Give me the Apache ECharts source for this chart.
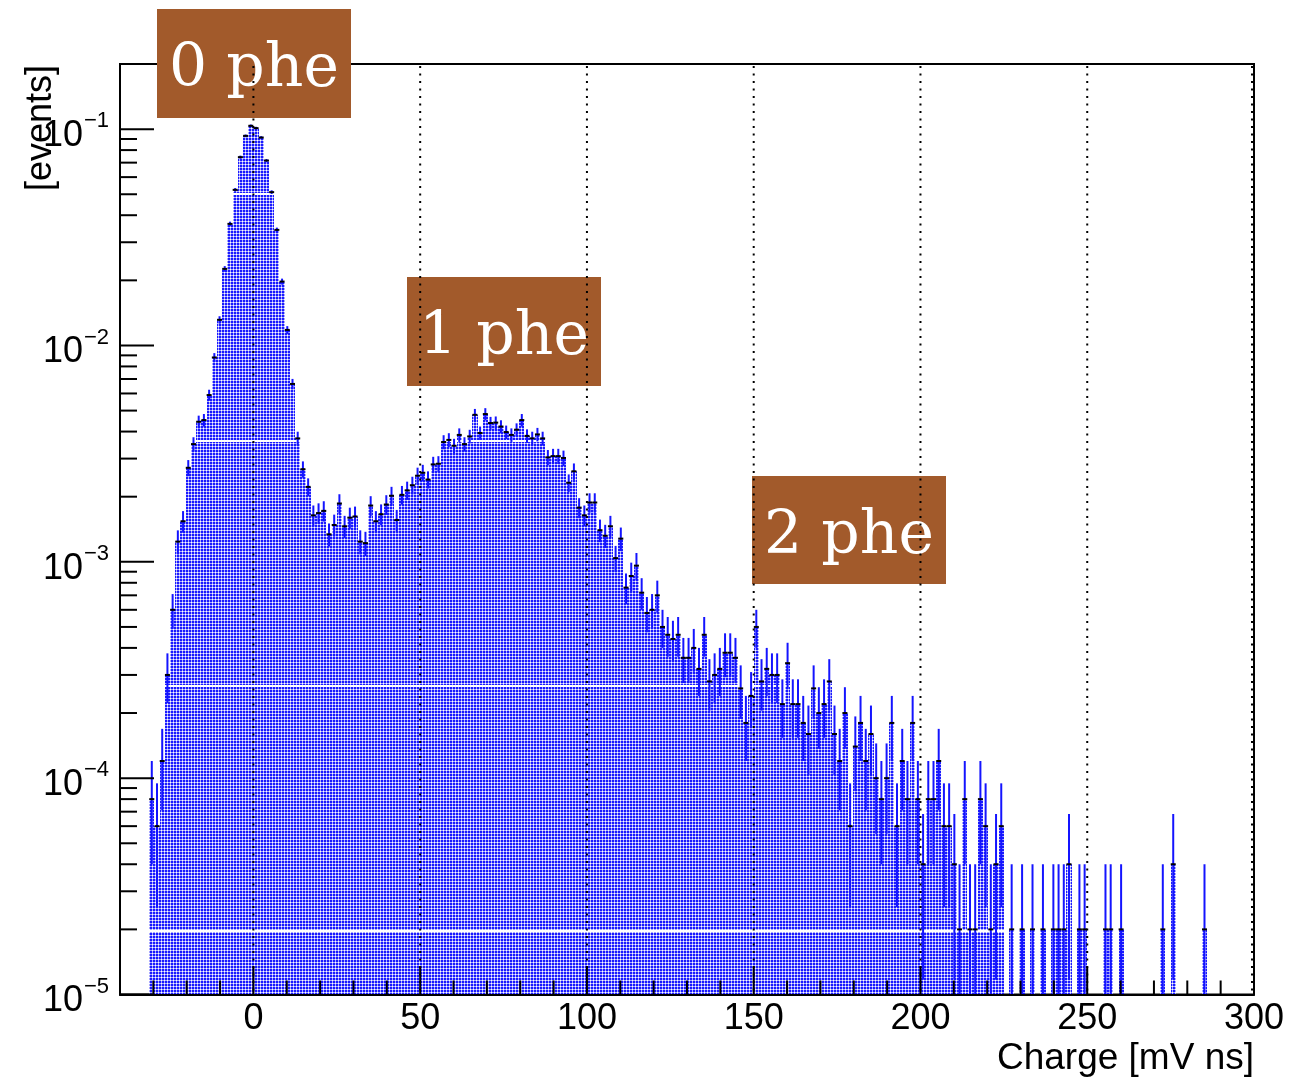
<!DOCTYPE html>
<html><head><meta charset="utf-8">
<script src="https://cdn.jsdelivr.net/npm/echarts@6/dist/echarts.min.js"></script>
<style>html,body{margin:0;padding:0;background:#fff}#c{width:1312px;height:1078px}</style>
</head><body><div id="c"></div>
<script>
// ---------------- data ----------------
const binStart = -31.25;      // lower edge of first bin [mV ns]
const binWidth = 1.5625;      // bin width [mV ns]
const eventsPerCount = 2e-5;  // normalisation: one entry = 2e-5
const counts = [
  4, 3, 6, 15, 30, 62, 77, 136, 175, 222,
  226, 295, 440, 657, 1130, 1824, 2620, 3711, 4655, 5180,
  5054, 4573, 3579, 2557, 1711, 987, 590, 332, 186, 134,
  111, 82, 84, 86, 67, 74, 93, 73, 80, 81,
  62, 61, 91, 77, 83, 92, 101, 78, 102, 107,
  113, 125, 129, 120, 141, 142, 179, 183, 172, 193,
  175, 190, 239, 197, 241, 219, 220, 211, 199, 193,
  204, 226, 191, 186, 194, 186, 152, 154, 154, 151,
  116, 131, 89, 82, 94, 94, 70, 66, 73, 52,
  64, 38, 43, 48, 36, 29, 30, 35, 25, 23,
  22, 23, 18, 18, 20, 16, 23, 14, 15, 16,
  19, 19, 18, 13, 9, 12, 25, 14, 16, 15,
  15, 11, 17, 11, 11, 9, 8, 13, 10, 11,
  14, 8, 6, 10, 3, 7, 9, 6, 8, 5,
  4, 5, 9, 3, 6, 4, 9, 4, 2, 4,
  4, 6, 3, 3, 2, 1, 4, 1, 1, 4,
  3, 1, 2, 3, 0, 1, 0, 1, 0, 1,
  0, 1, 0, 1, 1, 1, 2, 0, 1, 1,
  0, 0, 0, 1, 1, 0, 1, 0, 0, 0,
  0, 0, 0, 0, 1, 0, 2, 0, 0, 0,
  0, 0, 1
];
const xTickMajor = [0, 50, 100, 150, 200, 250, 300];
const xTickLabels = ['0', '50', '100', '150', '200', '250', '300'];
const xTickMinor = [-30, -20, -10, 10, 20, 30, 40, 60, 70, 80, 90, 110, 120, 130, 140,
  160, 170, 180, 190, 210, 220, 230, 240, 260, 270, 280, 290];
const yTickMajor = [1e-5, 1e-4, 1e-3, 1e-2, 1e-1];
const yTickExponents = ['−5', '−4', '−3', '−2', '−1'];
const yTickMinor = [2e-5, 3e-5, 4e-5, 5e-5, 6e-5, 7e-5, 8e-5, 9e-5,
  2e-4, 3e-4, 4e-4, 5e-4, 6e-4, 7e-4, 8e-4, 9e-4,
  2e-3, 3e-3, 4e-3, 5e-3, 6e-3, 7e-3, 8e-3, 9e-3,
  2e-2, 3e-2, 4e-2, 5e-2, 6e-2, 7e-2, 8e-2, 9e-2];
const annotations = ['0 phe', '1 phe', '2 phe'];
const xTitle = 'Charge [mV ns]';
const yTitle = '[events]';

// ---------------- build ----------------
const histData = [];
counts.forEach((n, i) => {
  if (n > 0) {
    const lo = binStart + i * binWidth;
    histData.push([lo, lo + binWidth, n * eventsPerCount, Math.sqrt(n) * eventsPerCount]);
  }
});

// hatch-like fill pattern (ROOT fill style look)
const pc = document.createElement('canvas');
pc.width = 3; pc.height = 3;
const pctx = pc.getContext('2d');
pctx.fillStyle = '#ffffff'; pctx.fillRect(0, 0, 3, 3);
pctx.fillStyle = '#a8a8ff'; pctx.fillRect(0, 0, 3, 2); pctx.fillRect(0, 0, 2, 3);
pctx.fillStyle = '#1a1aff'; pctx.fillRect(0, 0, 2, 2);
const pattern = { image: pc, repeat: 'repeat' };

// white rendering seams seen in the original fill
const seams = [{ v: 0.0507 }, { v: 3.66e-3 }, { v: 2.7e-4 }, { v: 1.99e-5, maxX: 225 }];

const FONT = 'Liberation Sans, Arial, Helvetica, sans-serif';
const chart = echarts.init(document.getElementById('c'), null, { renderer: 'canvas' });

function renderFill(params, api) {
  const cs = params.coordSys;
  const lo = api.value(0), v = api.value(2);
  const a = api.coord([lo, v]);
  const b = api.coord([api.value(1), v]);
  const x1 = Math.round(a[0]), x2 = Math.round(b[0]);
  const yTop = Math.max(cs.y, a[1]);
  const yBot = cs.y + cs.height;
  const children = [{ type: 'rect', shape: { x: x1, y: yTop, width: x2 - x1, height: yBot - yTop },
    style: { fill: pattern } }];
  seams.forEach(s => {
    if (v > s.v && (s.maxX === undefined || lo < s.maxX)) {
      const ys = Math.round(api.coord([lo, s.v])[1]);
      children.push({ type: 'rect', shape: { x: x1, y: ys, width: x2 - x1, height: 2 }, style: { fill: '#ffffff' } });
    }
  });
  return { type: 'group', children };
}
function renderErr(params, api) {
  const cs = params.coordSys;
  const lo = api.value(0), hi = api.value(1), v = api.value(2), e = api.value(3);
  const xc = api.coord([(lo + hi) / 2, v])[0];
  const yv = api.coord([0, v])[1];
  const yUp = Math.max(cs.y, api.coord([0, v + e])[1]);
  const yBot = cs.y + cs.height;
  const yDn = (v - e) > 1e-12 ? Math.min(yBot, api.coord([0, v - e])[1]) : yBot;
  return { type: 'group', children: [
    { type: 'line', shape: { x1: xc, y1: yUp, x2: xc, y2: yDn }, style: { stroke: '#1414ff', lineWidth: 2 } },
    { type: 'rect', shape: { x: xc - 2.5, y: yv - 1, width: 5, height: 2 }, style: { fill: '#000' } }
  ] };
}
function renderGridLine(params, api) {
  const cs = params.coordSys;
  const x = Math.min(api.coord([api.value(0), 1e-3])[0], cs.x + cs.width - 2);
  return { type: 'line', shape: { x1: x, y1: cs.y + 2, x2: x, y2: cs.y + cs.height },
    style: { stroke: '#000', lineWidth: 2, lineDash: [2, 5.5] } };
}
function makeXTick(len) {
  return function (params, api) {
    const cs = params.coordSys;
    const x = api.coord([api.value(0), 1e-3])[0];
    const yb = cs.y + cs.height;
    return { type: 'line', shape: { x1: x, y1: yb, x2: x, y2: yb - len }, style: { stroke: '#000', lineWidth: 2 } };
  };
}
function makeYTick(len) {
  return function (params, api) {
    const cs = params.coordSys;
    const y = api.coord([0, api.value(1)])[1];
    return { type: 'line', shape: { x1: cs.x, y1: y, x2: cs.x + len, y2: y }, style: { stroke: '#000', lineWidth: 2 } };
  };
}
function renderYLabel(params, api) {
  const cs = params.coordSys;
  const y = api.coord([0, api.value(1)])[1];
  const exp = yTickExponents[params.dataIndex];
  return { type: 'group', children: [
    { type: 'text', x: cs.x - 37, y: y + 7, style: { text: '10', fill: '#000', font: '36px ' + FONT, textAlign: 'right', textVerticalAlign: 'middle' } },
    { type: 'text', x: cs.x - 36, y: y - 8, style: { text: exp, fill: '#000', font: '22px ' + FONT, textAlign: 'left', textVerticalAlign: 'middle' } }
  ] };
}

const option = {
  animation: false,
  backgroundColor: '#fff',
  grid: { left: 120, top: 64, width: 1134, height: 930.5, show: true, borderColor: '#000', borderWidth: 2, backgroundColor: 'transparent' },
  xAxis: {
    type: 'value', min: -40, max: 300, interval: 10, z: 10,
    axisLine: { show: true, onZero: false, lineStyle: { color: '#000', width: 2 } },
    axisTick: { show: false }, splitLine: { show: false },
    axisLabel: {
      margin: 7, color: '#000', fontSize: 36, fontFamily: FONT,
      formatter: function (v) { const i = xTickMajor.indexOf(v); return i >= 0 ? xTickLabels[i] : ''; }
    }
  },
  yAxis: {
    type: 'log', logBase: 10, min: 1e-5, max: 0.2, z: 10,
    axisLine: { show: true, onZero: false, lineStyle: { color: '#000', width: 2 } },
    axisTick: { show: false }, splitLine: { show: false }, minorTick: { show: false },
    axisLabel: { show: false }
  },
  series: [
    { type: 'custom', name: 'fill', z: 2, silent: true, data: histData, encode: { x: [0, 1], y: 2 }, renderItem: renderFill },
    { type: 'custom', name: 'grid', z: 3, silent: true, data: xTickMajor.map(v => [v, 1e-3]), encode: { x: 0, y: 1 }, renderItem: renderGridLine },
    { type: 'custom', name: 'errors', z: 4, silent: true, data: histData, encode: { x: [0, 1], y: 2 }, renderItem: renderErr },
    { type: 'custom', name: 'xMajor', z: 6, silent: true, data: xTickMajor.map(v => [v, 1e-3]), encode: { x: 0, y: 1 }, renderItem: makeXTick(28) },
    { type: 'custom', name: 'xMinor', z: 6, silent: true, data: xTickMinor.map(v => [v, 1e-3]), encode: { x: 0, y: 1 }, renderItem: makeXTick(14) },
    { type: 'custom', name: 'yMajor', z: 6, silent: true, data: yTickMajor.map(v => [0, v]), encode: { x: 0, y: 1 }, renderItem: makeYTick(34) },
    { type: 'custom', name: 'yMinor', z: 6, silent: true, data: yTickMinor.map(v => [0, v]), encode: { x: 0, y: 1 }, renderItem: makeYTick(17) },
    { type: 'custom', name: 'yLabels', z: 6, silent: true, clip: false, data: yTickMajor.map(v => [0, v]), encode: { x: 0, y: 1 }, renderItem: renderYLabel }
  ],
  graphic: [
    { type: 'text', right: 58, top: 1040, z: 20,
      style: { text: xTitle, fill: '#000', font: '37px ' + FONT } },
    { type: 'text', x: 41, y: 65, rotation: Math.PI / 2, z: 20,
      style: { text: yTitle, fill: '#000', font: '36px ' + FONT, textAlign: 'right', textVerticalAlign: 'middle' } },
    { type: 'group', z: 30, children: [
      { type: 'rect', shape: { x: 157, y: 9, width: 194, height: 109 }, style: { fill: '#A25A2B' } },
      { type: 'text', x: 254, y: 70, style: { text: annotations[0], fill: '#fff', font: '60px "DejaVu Serif", serif', textAlign: 'center', textVerticalAlign: 'middle' } },
      { type: 'rect', shape: { x: 407, y: 277, width: 194, height: 109 }, style: { fill: '#A25A2B' } },
      { type: 'text', x: 504, y: 338, style: { text: annotations[1], fill: '#fff', font: '60px "DejaVu Serif", serif', textAlign: 'center', textVerticalAlign: 'middle' } },
      { type: 'rect', shape: { x: 752, y: 476, width: 194, height: 108 }, style: { fill: '#A25A2B' } },
      { type: 'text', x: 849, y: 537, style: { text: annotations[2], fill: '#fff', font: '60px "DejaVu Serif", serif', textAlign: 'center', textVerticalAlign: 'middle' } }
    ] }
  ]
};
chart.setOption(option);
</script>
</body></html>
